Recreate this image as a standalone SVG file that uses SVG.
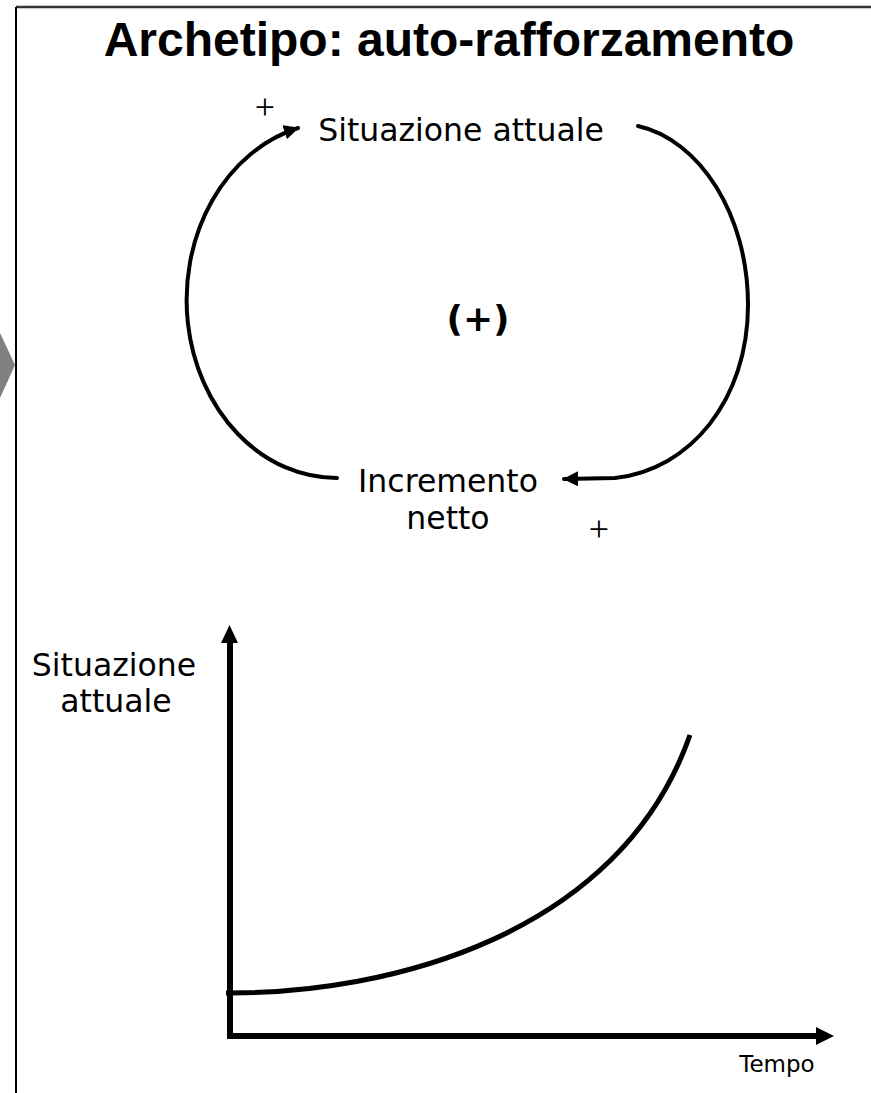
<svg xmlns="http://www.w3.org/2000/svg" width="871" height="1093" viewBox="0 0 871 1093">
<style>
.lbl{font-family:"DejaVu Sans",Verdana,sans-serif;font-size:31.5px;fill:#000;text-anchor:middle}
.plus{font-family:"Liberation Serif","Times New Roman",serif;font-size:36px;fill:#000;text-anchor:middle}
.loop{fill:none;stroke:#000;stroke-width:4;stroke-linecap:round}
.axis{fill:none;stroke:#000;stroke-width:6}
</style>
<defs>
<marker id="ah" markerUnits="userSpaceOnUse" markerWidth="18" markerHeight="18" refX="14" refY="7.5" orient="auto">
<path d="M0,0 L15,7.5 L0,15 Z" fill="#000"/>
</marker>
</defs>
<rect x="0" y="0" width="871" height="1093" fill="#fff"/>
<g id="frame">
<line x1="16" y1="7" x2="871" y2="7" stroke="#333" stroke-width="2.5"/>
<line x1="16" y1="7" x2="16" y2="1093" stroke="#000" stroke-width="2"/>
<polygon points="0,333 15,365 0,398" fill="#808080"/>
</g>
<g id="title">
<text x="449" y="56" font-family="'Liberation Sans',Arial,sans-serif" font-size="48" font-weight="bold" text-anchor="middle">Archetipo: auto-rafforzamento</text>
</g>
<g id="node-situazione">
<text class="lbl" x="461" y="141">Situazione attuale</text>
</g>
<g id="node-incremento">
<text class="lbl" x="448" y="492">Incremento</text>
<text class="lbl" x="448" y="529">netto</text>
</g>
<g id="loop-sign">
<text x="478" y="331" font-family="'DejaVu Sans',Verdana,sans-serif" font-size="36" font-weight="bold" text-anchor="middle">(+)</text>
</g>
<g id="connectors">
<path class="loop" d="M337,478 A150,178 0 0 1 298,128" marker-end="url(#ah)"/>
<path class="loop" d="M638,126 C700,140 748,215 748,305 C748,400 690,470 615,478 L564,479" marker-end="url(#ah)"/>
<text class="plus" x="265" y="119">+</text>
<text class="plus" x="599" y="541">+</text>
</g>
<g id="graph">
<line class="axis" x1="230" y1="1039" x2="230" y2="640"/>
<path d="M221,643 L229.5,625 L238,643 Z" fill="#000"/>
<line class="axis" x1="227" y1="1036" x2="818" y2="1036"/>
<path d="M816,1027 L834,1036 L816,1045 Z" fill="#000"/>
<path d="M226,993 C390,994 620,935 690,735" fill="none" stroke="#000" stroke-width="5"/>
<text class="lbl" x="114" y="676">Situazione</text>
<text class="lbl" x="116" y="712">attuale</text>
<text x="777" y="1072" font-family="'DejaVu Sans',Verdana,sans-serif" font-size="23" text-anchor="middle">Tempo</text>
</g>
</svg>
